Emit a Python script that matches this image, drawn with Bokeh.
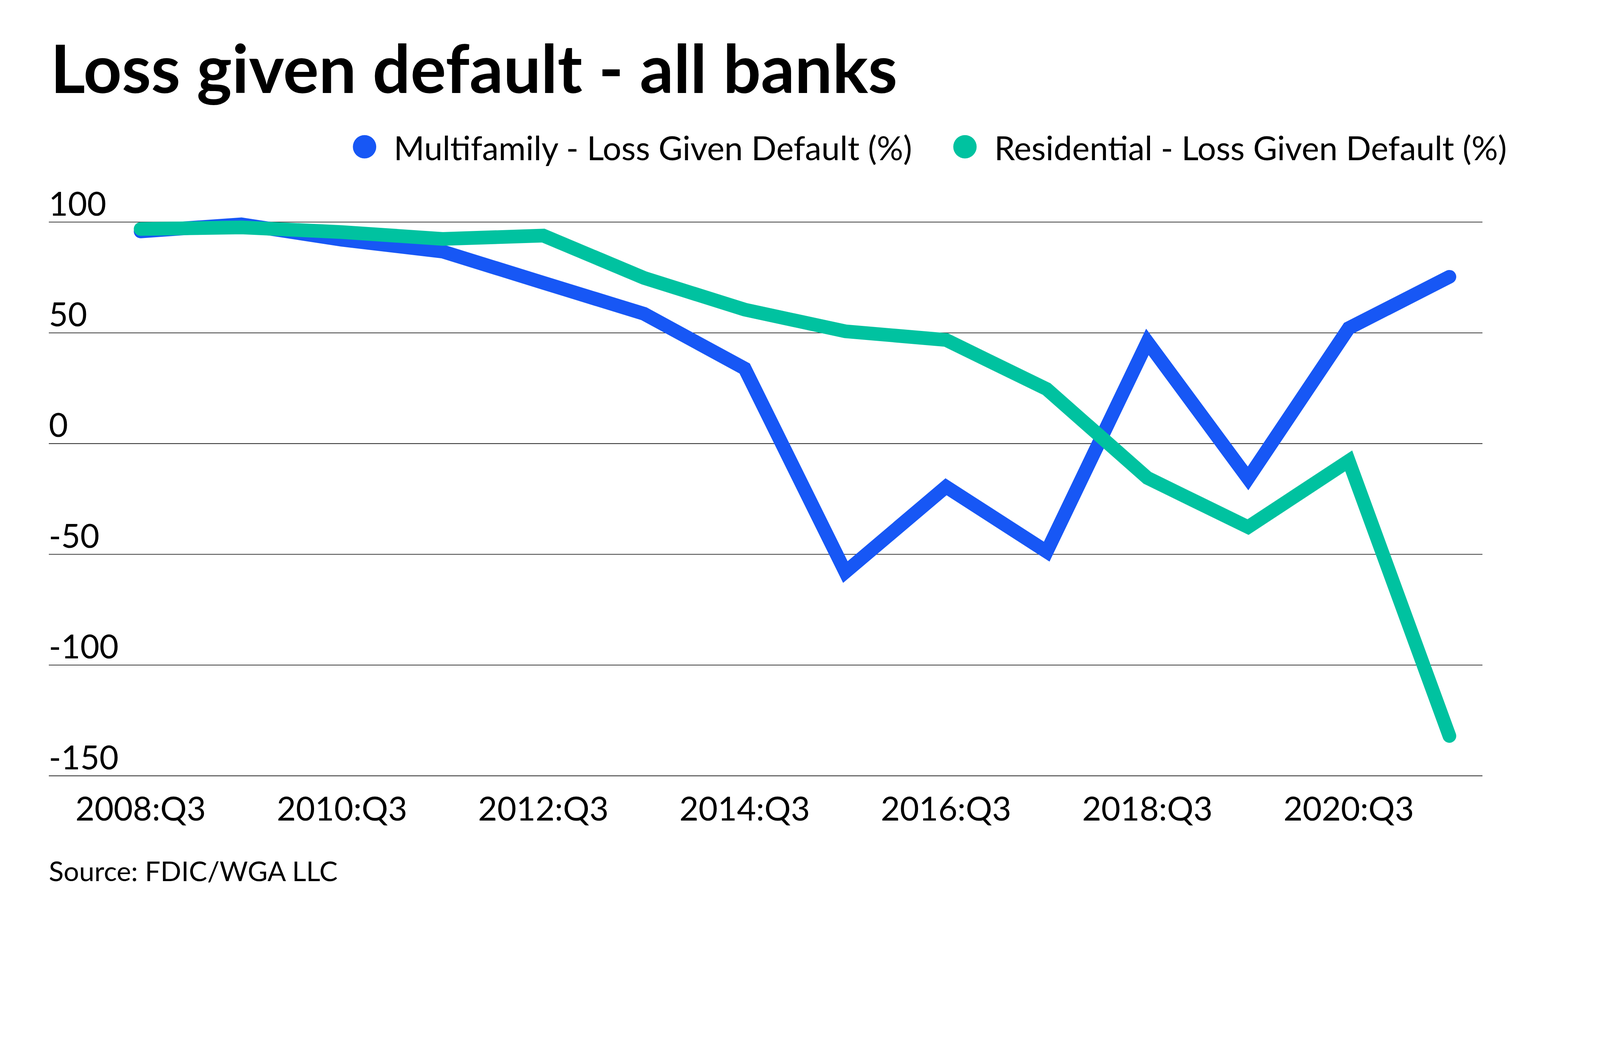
from bokeh.plotting import figure
from bokeh.models import Range1d
from bokeh.core.properties import value
from bokeh.embed import file_html
from bokeh.resources import INLINE

# data (yearly Q3 values, %)
periods = ["2008:Q3", "2009:Q3", "2010:Q3", "2011:Q3", "2012:Q3", "2013:Q3", "2014:Q3",
           "2015:Q3", "2016:Q3", "2017:Q3", "2018:Q3", "2019:Q3", "2020:Q3", "2021:Q3"]
multifamily = [95.8, 99.0, 92.0, 86.7, 72.6, 58.6, 33.9, -58.0, -19.5, -48.8, 45.9, -15.7, 52.1, 75.3]
residential = [96.9, 97.6, 95.5, 92.4, 93.9, 74.8, 60.5, 50.7, 46.8, 24.6, -15.5, -37.7, -7.8, -132.0]
series_names = ["Multifamily - Loss Given Default (%)", "Residential - Loss Given Default (%)"]
y_ticks = [100, 50, 0, -50, -100, -150]
label_step = 2

BLUE = "#1757F5"
GREEN = "#00C2A0"
INK = "#222222"
FONT = "Lato"

# the page is photographed ~1.17x larger than css px; layout below is in
# photo px and scaled back with K
K = 1.17
W, H = 4060, 2290
X0, DX = 430, 301.54      # photo px of first period, px per period
Y0, DY = 1337, 6.632      # photo px of value 0, px per unit
LIFT = 0.33               # text y lands this many em above the asked baseline

LABEL_PX, TITLE_PX, SOURCE_PX = 99, 200, 82


def dx(px):
    return (px - X0) / DX


def dy(py):
    return (Y0 - py) / DY


def base(py, size):
    # data y that puts the text baseline at photo px py
    return dy(py - LIFT * size)


def fs(px):
    return value(f"{px / K:.1f}px")


xs = list(range(len(periods)))
x_range = Range1d(dx(8 * K), dx((W + 8) * K))
y_range = Range1d(dy((H + 8) * K), dy(8 * K))

p = figure(width=W, height=H, title=None, x_range=x_range, y_range=y_range,
           x_axis_type=None, y_axis_type=None,
           output_backend="svg", toolbar_location=None, min_border=0)
p.outline_line_color = None
p.grid.visible = False

# gridlines, with their labels sitting on top of them
left, right = dx(155), dx(4449)
p.segment(x0=[left] * len(y_ticks), x1=[right] * len(y_ticks), y0=y_ticks, y1=y_ticks,
          line_color=INK, line_width=2.2 / K)
p.text(x=[left] * len(y_ticks), y=[t + (22.7 + LIFT * LABEL_PX) / DY for t in y_ticks],
       text=[str(t) for t in y_ticks],
       text_font=value(FONT), text_font_size=fs(LABEL_PX), text_color="black",
       text_align="left", text_baseline="alphabetic")

# x labels
ticks = xs[::label_step]
p.text(x=ticks, y=[base(2460, LABEL_PX)] * len(ticks), text=[periods[i] for i in ticks],
       text_font=value(FONT), text_font_size=fs(LABEL_PX), text_color="black",
       text_align="center", text_baseline="alphabetic")

p.line(xs, multifamily, line_width=41 / K, line_color=BLUE, line_join="miter", line_cap="round")
p.line(xs, residential, line_width=41 / K, line_color=GREEN, line_join="miter", line_cap="round")

# legend
p.scatter([dx(1100.7), dx(2899)], [dy(448.3)] * 2, size=70 / K, marker="circle",
          fill_color=[BLUE, GREEN], line_color=None)
p.text(x=[dx(1188), dx(2987)], y=[base(482.7, LABEL_PX)] * 2, text=series_names,
       text_font=value(FONT), text_font_size=fs(LABEL_PX), text_color="black",
       text_align="left", text_baseline="alphabetic")

# title and source
p.text(x=[dx(160)], y=[base(276, TITLE_PX)], text=["Loss given default - all banks"],
       text_font=value(FONT), text_font_style="bold", text_font_size=fs(TITLE_PX),
       text_color="black", text_align="left", text_baseline="alphabetic")
p.text(x=[dx(155)], y=[base(2643, SOURCE_PX)], text=["Source: FDIC/WGA LLC"],
       text_font=value(FONT), text_font_size=fs(SOURCE_PX), text_color="black",
       text_align="left", text_baseline="alphabetic")

open("out.html", "w").write(file_html(p, INLINE))
